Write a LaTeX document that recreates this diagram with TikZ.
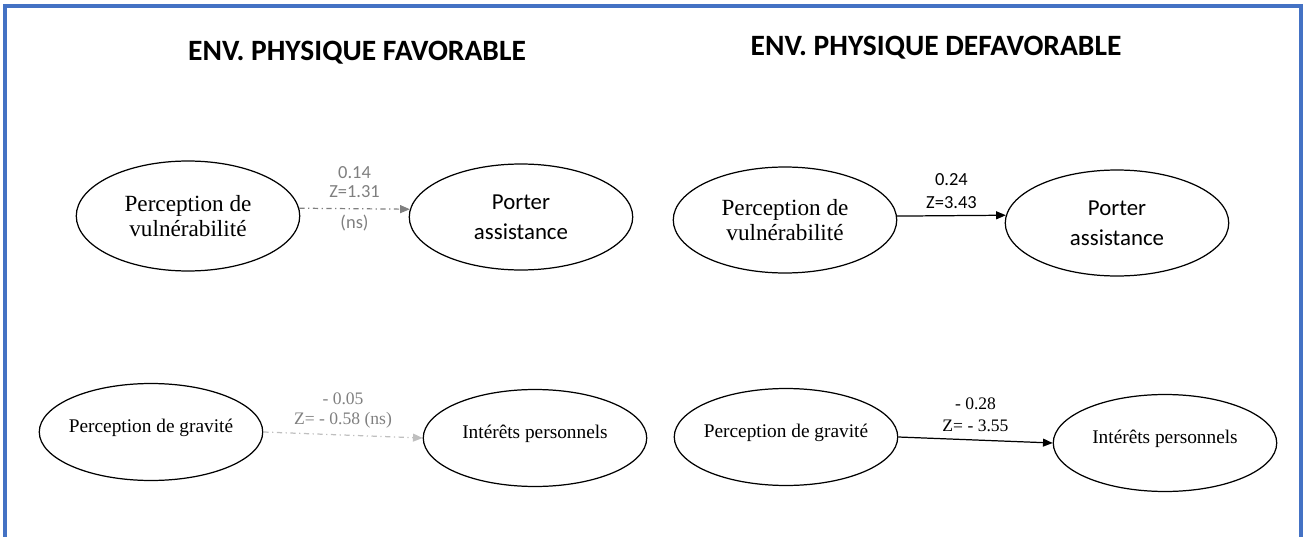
\documentclass[tikz,border=0pt]{standalone}
\usepackage{fontspec}
\setmainfont{Liberation Serif}
\newfontfamily\calibri{Carlito}
\usetikzlibrary{shapes.geometric,arrows.meta}
\definecolor{cadre}{HTML}{4472C4}
\definecolor{gristxt}{HTML}{7F7F7F}
\definecolor{grisclair}{HTML}{BFBFBF}
\begin{document}
\begin{tikzpicture}[x=0.02cm,y=-0.02cm,
	bulle/.style={ellipse,draw,line width=0.7pt,inner sep=0pt,minimum width=4.47cm,align=center},
	haut/.style={bulle,minimum height=2.12cm,font=\fontsize{13.2}{13.8}\selectfont},
	bas/.style={bulle,minimum height=1.94cm,text depth=7pt,font=\fontsize{11}{13}\selectfont},
	sans/.style={font=\calibri\fontsize{13}{17}\selectfont},
	titre/.style={font=\calibri\bfseries\fontsize{16.8}{18}\selectfont},
	coef/.style={font=\calibri\fontsize{10.5}{12}\selectfont,inner sep=1pt},
	coefb/.style={font=\fontsize{10}{12}\selectfont,inner sep=1pt},
	fleche/.style={line width=0.7pt,-{Triangle[length=5.5pt,width=4.5pt]}}]
	\clip (0,0)rectangle(1305,537);
	\useasboundingbox (0,0)rectangle(1305,537);
	\draw[cadre,line width=2.3pt] (5,560)--(5,6)--(1301,6)--(1301,560);
	\node[titre] (t1) at (357,53) {ENV. PHYSIQUE FAVORABLE};
	\node[titre] (t2) at (936,48) {ENV. PHYSIQUE DEFAVORABLE};
	% favorable
	\node[haut,minimum height=2.2cm] (vul1) at (188,216) {Perception de\\vuln\'erabilit\'e};
	\node[haut,sans] (ass1) at (521,217) {Porter\\assistance};
	\node[bas] (gra1) at (151,432) {\makebox[0pt]{Perception de gravit\'e}};
	\node[bas] (int1) at (535,438) {Int\'er\^ets personnels};
	% defavorable
	\node[haut] (vul2) at (785,220) {Perception de\\vuln\'erabilit\'e};
	\node[haut,sans] (ass2) at (1117,223) {Porter\\assistance};
	\node[bas] (gra2) at (786,437) {\makebox[0pt]{Perception de gravit\'e}};
	\node[bas] (int2) at (1165,443) {Int\'er\^ets personnels};
	% liens
	\draw[fleche,gristxt,dash dot] (vul1.4)--(ass1.176)
		node[midway,coef,yshift=20.4pt]{0.14}
		node[midway,coef,yshift=10pt]{Z=1.31}
		node[midway,coef,yshift=-8pt]{(ns)};
	\draw[fleche,black] (vul2.2)--(ass2.176)
		node[midway,coef,yshift=20.4pt]{0.24}
		node[midway,coef,yshift=7.4pt]{Z=3.43};
	\draw[fleche,grisclair,dash dot] (gra1.east)--(int1.west)
		node[midway,coefb,text=gristxt,yshift=20.4pt]{- 0.05}
		node[midway,coefb,text=gristxt,yshift=8.5pt]{Z= - 0.58 (ns)};
	\draw[fleche,black] (gra2.east)--(int2.west)
		node[midway,coefb,yshift=20.4pt]{- 0.28}
		node[midway,coefb,yshift=8pt]{Z= - 3.55};
\end{tikzpicture}
\end{document}
